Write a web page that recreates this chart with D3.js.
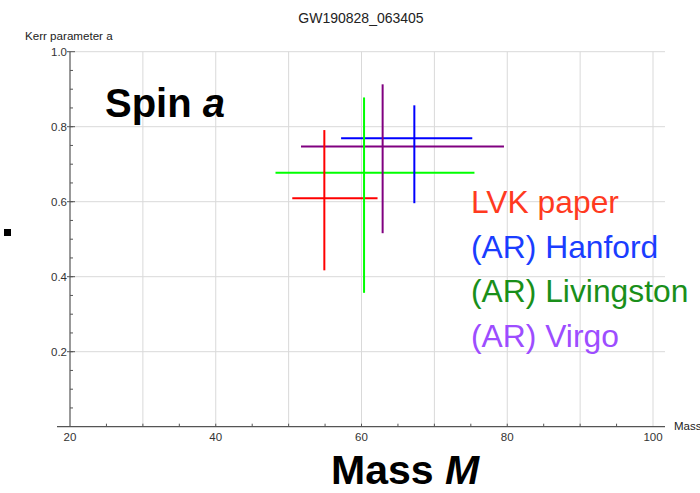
<!DOCTYPE html>
<html><head><meta charset="utf-8">
<script src="https://cdn.jsdelivr.net/npm/d3@7"></script>
<style>body{margin:0;background:#fff}svg{display:block}</style>
</head><body>
<script>
const title = "GW190828_063405";
const series = ["LVK paper", "(AR) Hanford", "(AR) Livingston", "(AR) Virgo"];
const massCenter = [54.9, 67.25, 60.35, 62.9];
const massLow = [50.5, 57.2, 48.2, 51.7];
const massHigh = [62.2, 75.2, 75.5, 79.55];
const spinCenter = [0.609, 0.769, 0.677, 0.747];
const spinLow = [0.417, 0.596, 0.357, 0.516];
const spinHigh = [0.791, 0.857, 0.878, 0.913];
const xTickLabels = [20, 40, 60, 80, 100];
const yTickLabels = [0.2, 0.4, 0.6, 0.8, 1.0];

const crossColors = ["#ff0000", "#0000ff", "#00ff00", "#800080"];
const legendColors = ["#ff3a1f", "#1a3dff", "#1a8f1a", "#9d4dff"];

const W = 700, H = 493;
const svg = d3.select("body").append("svg").attr("width", W).attr("height", H);
const x = d3.scaleLinear().domain([20, 100]).range([70, 653]);
const y = d3.scaleLinear().domain([0, 1]).range([426.7, 51.7]);
const font = "'Liberation Sans', Arial, sans-serif";

// grid
const g = svg.append("g");
g.selectAll(".vg").data(d3.range(30, 101, 10)).join("line")
  .attr("x1", d => x(d)).attr("x2", d => x(d)).attr("y1", y(0)).attr("y2", y(1))
  .attr("stroke", "#d9d9d9").attr("stroke-width", 1);
g.selectAll(".hg").data(yTickLabels).join("line")
  .attr("x1", x(20)).attr("x2", 665).attr("y1", d => y(d)).attr("y2", d => y(d))
  .attr("stroke", "#d9d9d9").attr("stroke-width", 1);

// axes
const axisColor = "#555";
svg.append("line").attr("x1", 57).attr("x2", 665).attr("y1", y(0)).attr("y2", y(0))
  .attr("stroke", axisColor).attr("stroke-width", 1.2);
svg.append("line").attr("x1", x(20)).attr("x2", x(20)).attr("y1", y(0)).attr("y2", y(1))
  .attr("stroke", axisColor).attr("stroke-width", 1.2);
// y ticks
svg.selectAll(".ymin").data(d3.range(0.05, 1.0, 0.05)).join("line")
  .attr("x1", x(20)).attr("x2", x(20) + 3).attr("y1", d => y(d)).attr("y2", d => y(d))
  .attr("stroke", axisColor);
svg.selectAll(".ymaj").data(yTickLabels).join("line")
  .attr("x1", x(20) - 3).attr("x2", x(20) + 5).attr("y1", d => y(d)).attr("y2", d => y(d))
  .attr("stroke", axisColor);
svg.selectAll(".ylab").data(yTickLabels).join("text")
  .attr("x", 67).attr("y", d => y(d) + 4).attr("text-anchor", "end")
  .attr("font-family", font).attr("font-size", 11.5).attr("fill", "#333")
  .text(d => d3.format(".1f")(d));
// x ticks
svg.selectAll(".xmin").data(d3.range(25, 100, 5)).join("line")
  .attr("x1", d => x(d)).attr("x2", d => x(d)).attr("y1", y(0)).attr("y2", y(0) - 3)
  .attr("stroke", axisColor);
svg.selectAll(".xlab").data(xTickLabels).join("text")
  .attr("x", d => x(d)).attr("y", 441).attr("text-anchor", "middle")
  .attr("font-family", font).attr("font-size", 11.5).attr("fill", "#333")
  .text(d => d);

// labels
svg.append("text").attr("x", 361).attr("y", 23).attr("text-anchor", "middle")
  .attr("font-family", font).attr("font-size", 14).attr("fill", "#222").text(title);
svg.append("text").attr("x", 25).attr("y", 40)
  .attr("font-family", font).attr("font-size", 11.6).attr("fill", "#222").text("Kerr parameter a");
svg.append("text").attr("x", 674).attr("y", 430)
  .attr("font-family", font).attr("font-size", 11.5).attr("fill", "#222").text("Mass");

const spin = svg.append("text").attr("x", 105).attr("y", 117)
  .attr("font-family", font).attr("font-size", 40).attr("font-weight", "bold").attr("fill", "#000");
spin.append("tspan").text("Spin ");
spin.append("tspan").attr("font-style", "italic").text("a");
const mass = svg.append("text").attr("x", 331).attr("y", 484)
  .attr("font-family", font).attr("font-size", 41).attr("font-weight", "bold").attr("fill", "#000");
mass.append("tspan").text("Mass ");
mass.append("tspan").attr("font-style", "italic").text("M");

// small square
svg.append("rect").attr("x", 4).attr("y", 229).attr("width", 7).attr("height", 7).attr("fill", "#000");

// crosses
const idx = d3.range(series.length);
const cg = svg.append("g");
cg.selectAll(".h").data(idx).join("line")
  .attr("x1", i => x(massLow[i])).attr("x2", i => x(massHigh[i]))
  .attr("y1", i => y(spinCenter[i])).attr("y2", i => y(spinCenter[i]))
  .attr("stroke", i => crossColors[i]).attr("stroke-width", 2);
cg.selectAll(".v").data(idx).join("line")
  .attr("x1", i => x(massCenter[i])).attr("x2", i => x(massCenter[i]))
  .attr("y1", i => y(spinLow[i])).attr("y2", i => y(spinHigh[i]))
  .attr("stroke", i => crossColors[i]).attr("stroke-width", 2);

// legend
svg.selectAll(".leg").data(idx).join("text")
  .attr("x", 471).attr("y", i => 213 + i * 44.6)
  .attr("font-family", font).attr("font-size", 31.8).attr("fill", i => legendColors[i])
  .text(i => series[i]);
</script>
</body></html>
